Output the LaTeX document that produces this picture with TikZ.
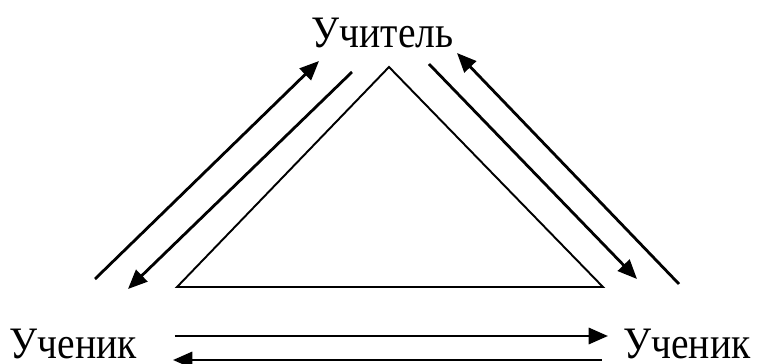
\documentclass[tikz,border=0pt]{standalone}
\usepackage{fontspec}
\setmainfont{Liberation Serif}
\usetikzlibrary{arrows.meta, positioning}

\tikzset{
	arr/.style={line width=0.8pt, -{Triangle[length=5.5pt,width=4.6pt]}},
	lbl/.style={inner sep=0pt, anchor=base, xscale=0.88, transform shape,
		font=\fontsize{12.8}{14}\selectfont},
}

\begin{document}
\begin{tikzpicture}
			\useasboundingbox (0,0) rectangle (7.58,3.63);
			\node [lbl] (teacher) at (3.825,3.16) {Учитель};
			\node [lbl] (pupilA) at (0.735,0.05) {Ученик};
			\node [lbl] (pupilB) at (6.87,0.05) {Ученик};
			%%
			\draw [line width=0.55pt] (3.89,2.96) -- (1.77,0.76) -- (6.03,0.76) -- cycle;
			%%
			\coordinate (a1) at (0.95,0.84);  \coordinate (a2) at (3.19,3.02);
			\coordinate (b1) at (3.52,2.91);  \coordinate (b2) at (1.28,0.74);
			\coordinate (c1) at (4.29,2.99);  \coordinate (c2) at (6.37,0.84);
			\coordinate (d1) at (6.79,0.79);  \coordinate (d2) at (4.57,3.10);
			\coordinate (e1) at (1.75,0.27);  \coordinate (e2) at (6.08,0.27);
			\coordinate (f1) at (6.02,0.03);  \coordinate (f2) at (1.73,0.03);
			\foreach \s/\t in {a1/a2, b1/b2, c1/c2, d1/d2, e1/e2, f1/f2} {
				\draw [arr] (\s) -- (\t);
			}
		\end{tikzpicture}
\end{document}
